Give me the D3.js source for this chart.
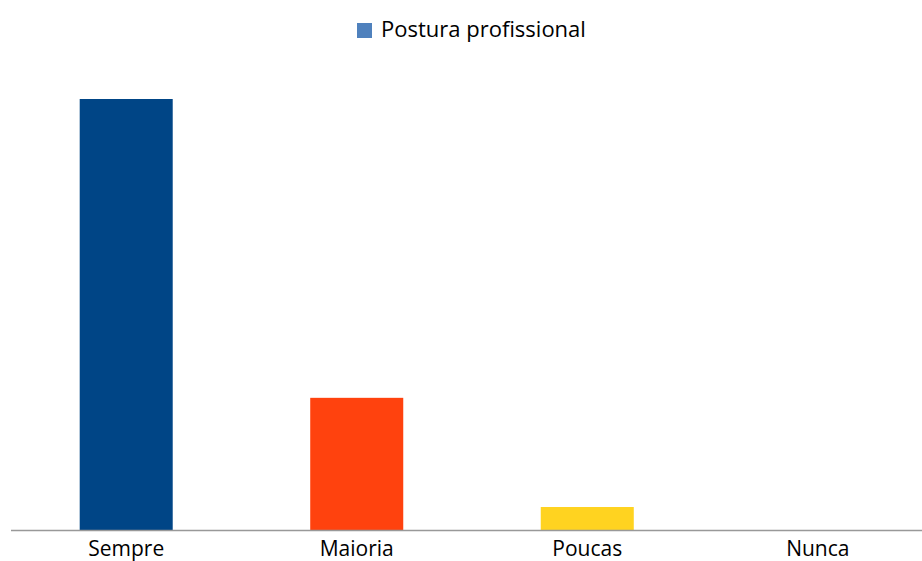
<!DOCTYPE html>
<html>
<head>
<meta charset="utf-8">
<script src="https://cdn.jsdelivr.net/npm/d3@7"></script>
<style>
html,body{margin:0;padding:0;background:#fff;}
svg{display:block;}
text{font-family:"Open Sans",sans-serif;fill:#000;}
</style>
</head>
<body>
<svg id="chart" width="922" height="561"></svg>
<script>
const categories = ["Sempre", "Maioria", "Poucas", "Nunca"];
const values = [75, 23, 4, 0];
const barColors = ["#004586", "#ff420e", "#ffd320", "#579d1c"];
const seriesName = "Postura profissional";
const legendColor = "#4f81bd";

const svg = d3.select("#chart");
const x = d3.scaleBand().domain(categories).range([11, 933])
  .paddingInner(0.5965).paddingOuter(0.298);
const y = d3.scaleLinear().domain([0, 75]).range([530, 99]);

svg.selectAll("rect.bar").data(categories).enter().append("rect")
  .attr("class", "bar")
  .attr("x", d => x(d))
  .attr("width", x.bandwidth())
  .attr("y", (d, i) => y(values[i]))
  .attr("height", (d, i) => y(0) - y(values[i]))
  .attr("fill", (d, i) => barColors[i]);

const axis = d3.axisBottom(x).tickSize(0).tickPadding(0);
const g = svg.append("g").attr("transform", "translate(0,530)").call(axis);
g.select(".domain").attr("d", "M11,0.5H922").attr("stroke", "#999").attr("stroke-width", 1.5);
g.selectAll(".tick text").attr("font-size", 21).attr("dy", null).attr("y", 26)
  .style("font-family", "'Open Sans', sans-serif").attr("fill", "#000");

const leg = svg.append("g");
leg.append("rect").attr("x", 357).attr("y", 23).attr("width", 15).attr("height", 15).attr("fill", legendColor);
leg.append("text").attr("x", 381).attr("y", 37).attr("font-size", 22).text(seriesName);
</script>
</body>
</html>
